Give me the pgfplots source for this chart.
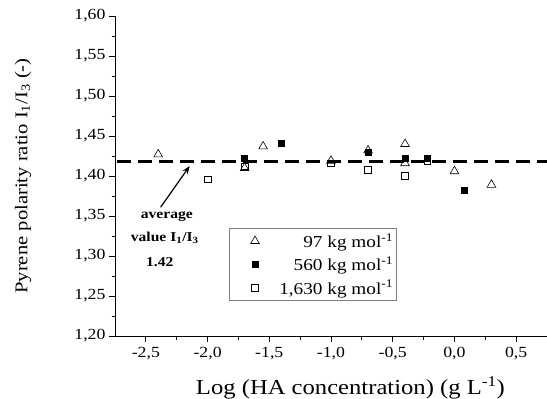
\documentclass[border=0pt]{standalone}
\usepackage{fontspec}
\setmainfont{Liberation Serif}[FakeStretch=1.15]
\usepackage{pgfplots}
\pgfplotsset{compat=1.18}
\usetikzlibrary{arrows.meta}
\begin{document}
\begin{tikzpicture}[x=1bp,y=1bp]
\useasboundingbox (0,0) rectangle (547,398);
\begin{axis}[
  at={(115bp,62bp)}, anchor=south west,
  width=432bp, height=320bp, scale only axis,
  xmin=-2.75, xmax=0.75, ymin=1.2, ymax=1.6,
  axis x line=bottom, axis y line=left,
  axis line style={-, line width=0.9pt},
  xtick={-2.5,-2,-1.5,-1,-0.5,0,0.5},
  ytick={1.2,1.25,1.3,1.35,1.4,1.45,1.5,1.55,1.6},
  minor x tick num=1, minor y tick num=1,
  tick align=outside, major tick length=6bp, minor tick length=3.5bp,
  every tick/.style={black, line width=0.8pt},
  xticklabel style={font=\fontsize{15.5}{17}\selectfont, yshift=-2bp,
    /pgf/number format/.cd, use comma, fixed, fixed zerofill, precision=1, assume math mode=true},
  yticklabel style={font=\fontsize{15.5}{17}\selectfont,
    /pgf/number format/.cd, use comma, fixed, fixed zerofill, precision=2, assume math mode=true},
  scaled ticks=false,
  xlabel={Log (HA concentration) (g L\textsuperscript{-1})},
  ylabel={Pyrene polarity ratio I\textsubscript{1}/I\textsubscript{3} (-)},
  every axis x label/.style={at={(axis description cs:0.545,0)}, anchor=base, yshift=-58bp, font=\fontsize{21.5}{24}\selectfont},
  every axis y label/.style={at={(axis description cs:-0.213,0.5)}, rotate=90, anchor=center, font=\fontsize{18}{20}\selectfont},
  legend style={at={(axis cs:-1.823,1.335)}, anchor=north west, draw=gray, line width=0.6pt,
    font=\fontsize{16.8}{19}\selectfont, row sep=4bp, inner xsep=1bp, inner ysep=3bp},
  legend cell align=right,
  legend image code/.code={\path (0bp,0bp) (46bp,0bp); \draw[mark repeat=2,mark phase=2,#1] plot coordinates {(0bp,0bp)(24bp,0bp)(46bp,0bp)};},
]
\addplot[black, line width=2.7bp, dash pattern=on 14bp off 7bp, forget plot] coordinates {(-2.73,1.418) (0.75,1.418)};
\addplot[only marks, mark=triangle, mark size=5bp, mark options={black, line width=0.6pt}]
  coordinates {(-2.40,1.427) (-1.70,1.410) (-1.55,1.437) (-1.00,1.419) (-0.70,1.432) (-0.40,1.440) (-0.40,1.416) (0.00,1.406) (0.30,1.389)};
\addlegendentry{97 kg mol\textsuperscript{-1}}
\addplot[only marks, mark=square*, mark size=3bp, mark options={black, fill=black, line width=0.6pt}]
  coordinates {(-1.70,1.422) (-1.40,1.441) (-0.70,1.430) (-0.40,1.422) (-0.22,1.422) (0.08,1.382)};
\addlegendentry{560 kg mol\textsuperscript{-1}}
\addplot[only marks, mark=square, mark size=3.3bp, mark options={black, line width=0.6pt}]
  coordinates {(-2.00,1.396) (-1.70,1.412) (-1.00,1.416) (-0.70,1.408) (-0.40,1.400) (-0.22,1.419)};
\addlegendentry{1,630 kg mol\textsuperscript{-1}}
\draw[-{Stealth[length=8bp,width=6bp]}, line width=1.2pt] (axis cs:-2.38,1.361) -- (axis cs:-2.145,1.4125);
\node[font=\bfseries\fontsize{13.6}{15}\selectfont] at (axis cs:-2.33,1.349) {average};
\node[font=\bfseries\fontsize{13.6}{15}\selectfont] at (axis cs:-2.347,1.323) {value I\textsubscript{1}/I\textsubscript{3}};
\node[font=\bfseries\fontsize{13.6}{15}\selectfont] at (axis cs:-2.387,1.292) {1.42};
\end{axis}
\end{tikzpicture}
\end{document}
